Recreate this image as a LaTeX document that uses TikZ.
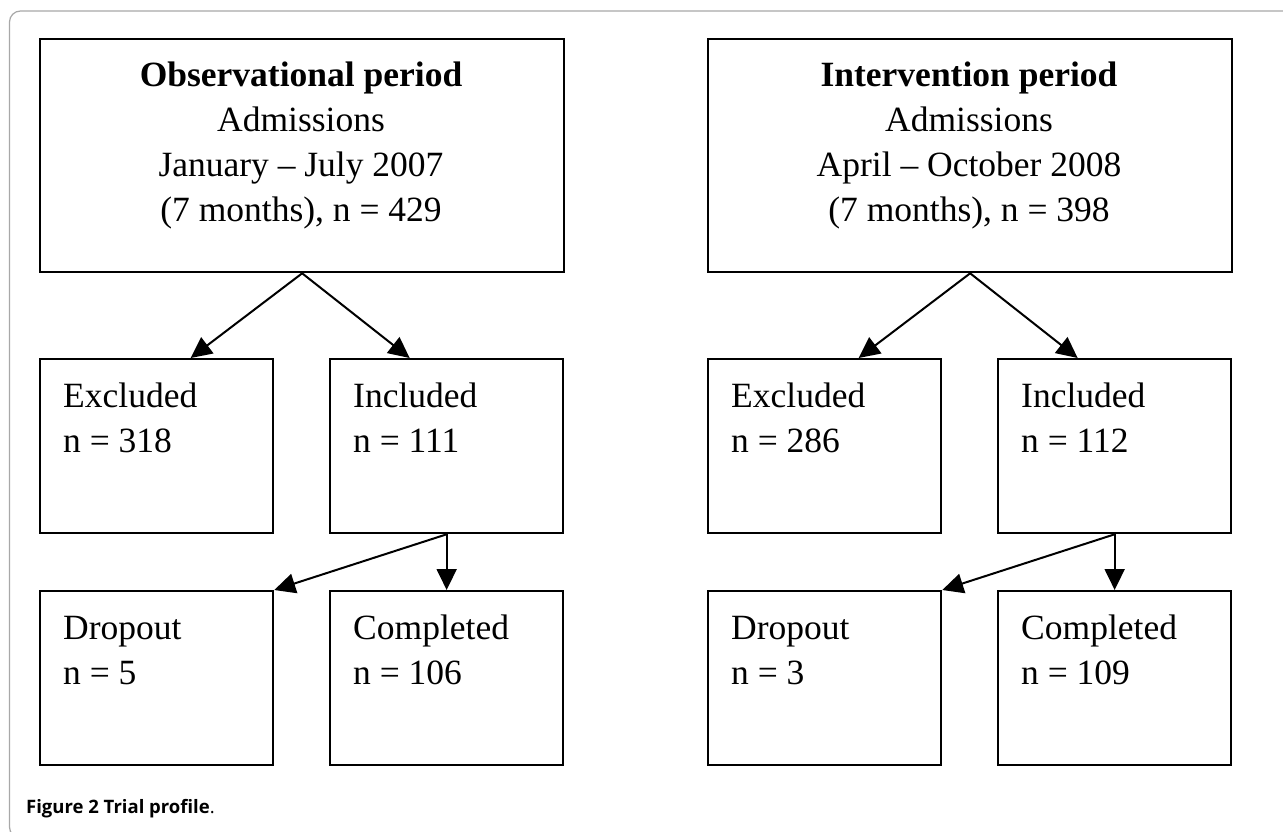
\documentclass[tikz,border=0pt]{standalone}
\usepackage{fontspec}
\setmainfont{Liberation Serif}
\newfontfamily\capfont{Open Sans}
\usetikzlibrary{arrows.meta,calc}
\definecolor{framegray}{HTML}{A8A8A8}
\tikzset{
  box/.style={draw=black, line width=2.3pt, rectangle, inner sep=0pt, anchor=north west},
  bigbox/.style={box, minimum width=524pt, minimum height=233pt},
  smallbox/.style={box, minimum width=233pt, minimum height=174pt},
  txt/.style={inner sep=0pt, font=\fontsize{35.5}{45}\selectfont},
  ctxt/.style={txt, anchor=base},
  ltxt/.style={txt, anchor=base west},
  arr/.style={line width=2pt, -{Triangle[length=21pt,width=20pt]}},
}
\begin{document}
\begin{tikzpicture}[x=1pt,y=-1pt]
\useasboundingbox (0,0) rectangle (1283,832);
\clip (0,0) rectangle (1283,832);
\fill[white] (0,0) rectangle (1283,832);
\draw[framegray, line width=1.2pt, rounded corners=11pt] (9.5,11) rectangle (1300,838);

% ---------- left column ----------
\node[bigbox] (obs) at (39,38) {};
\node[ctxt] (obs1) at (301,87) {\bfseries Observational period};
\node[ctxt] (obs2) at (301,132) {Admissions};
\node[ctxt] (obs3) at (301,177) {January -- July 2007};
\node[ctxt] (obs4) at (301,222) {(7 months), n = 429};

\node[smallbox] (exA) at (39,358) {};
\node[ltxt] (exA1) at (63,407) {Excluded};
\node[ltxt] (exA2) at (63,452) {n = 318};
\node[smallbox] (inA) at (329,358) {};
\node[ltxt] (inA1) at (353,407) {Included};
\node[ltxt] (inA2) at (353,452) {n = 111};

\node[smallbox] (drA) at (39,590) {};
\node[ltxt] (drA1) at (63,639) {Dropout};
\node[ltxt] (drA2) at (63,684) {n = 5};
\node[smallbox] (coA) at (329,590) {};
\node[ltxt] (coA1) at (353,639) {Completed};
\node[ltxt] (coA2) at (353,684) {n = 106};

\draw[arr] (obs.south) -- ([xshift=34pt]exA.north);
\draw[arr] (obs.south) -- ([xshift=-37pt]inA.north);
\draw[arr] (inA.south) -- (drA.north east);
\draw[arr] (inA.south) -- (coA.north);

% ---------- right column ----------
\node[bigbox] (int) at (707,38) {};
\node[ctxt] (int1) at (969,87) {\bfseries Intervention period};
\node[ctxt] (int2) at (969,132) {Admissions};
\node[ctxt] (int3) at (969,177) {April -- October 2008};
\node[ctxt] (int4) at (969,222) {(7 months), n = 398};

\node[smallbox] (exB) at (707,358) {};
\node[ltxt] (exB1) at (731,407) {Excluded};
\node[ltxt] (exB2) at (731,452) {n = 286};
\node[smallbox] (inB) at (997,358) {};
\node[ltxt] (inB1) at (1021,407) {Included};
\node[ltxt] (inB2) at (1021,452) {n = 112};

\node[smallbox] (drB) at (707,590) {};
\node[ltxt] (drB1) at (731,639) {Dropout};
\node[ltxt] (drB2) at (731,684) {n = 3};
\node[smallbox] (coB) at (997,590) {};
\node[ltxt] (coB1) at (1021,639) {Completed};
\node[ltxt] (coB2) at (1021,684) {n = 109};

\draw[arr] (int.south) -- ([xshift=34pt]exB.north);
\draw[arr] (int.south) -- ([xshift=-37pt]inB.north);
\draw[arr] (inB.south) -- (drB.north east);
\draw[arr] (inB.south) -- (coB.north);

% ---------- caption ----------
\node[inner sep=0pt, anchor=base west, font=\capfont\fontsize{18.5}{22}\selectfont] (cap) at (26,813) {{\bfseries Figure 2 Trial profile}.};
\end{tikzpicture}
\end{document}
